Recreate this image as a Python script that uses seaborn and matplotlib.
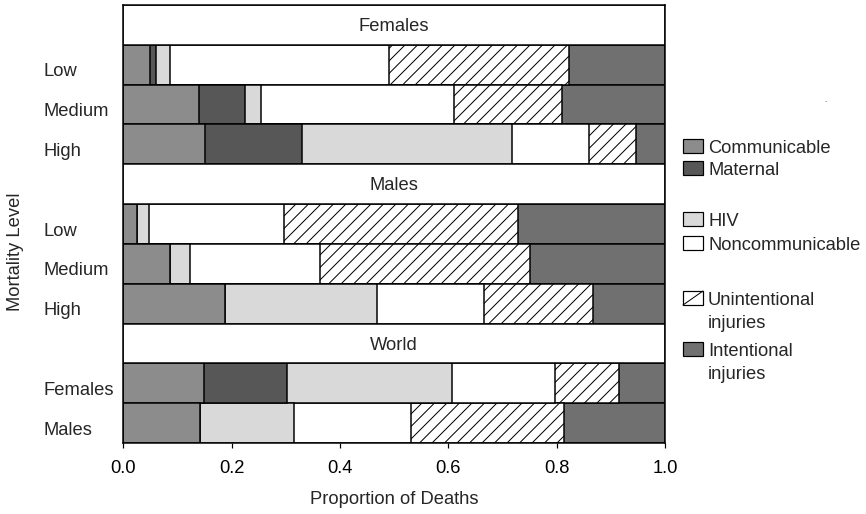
import numpy as np
import pandas as pd
import matplotlib
matplotlib.use("Agg")
import matplotlib.pyplot as plt
import matplotlib.transforms as mtransforms
from matplotlib.patches import Rectangle
from matplotlib.lines import Line2D
import seaborn as sns

# ---- data -------------------------------------------------------------
panels = ["Females", "Males", "World"]
row_keys = ["Females|Low", "Females|Medium", "Females|High",
            "Males|Low", "Males|Medium", "Males|High",
            "World|Females", "World|Males"]
row_labels = ["Low", "Medium", "High", "Low", "Medium", "High", "Females", "Males"]
causes = ["Communicable", "Maternal", "HIV", "Noncommunicable",
          "Unintentional\ninjuries", "Intentional\ninjuries"]

communicable = [0.049, 0.140, 0.151, 0.026, 0.086, 0.188, 0.149, 0.142]
maternal = [0.012, 0.084, 0.178, 0.000, 0.000, 0.000, 0.153, 0.000]
hiv = [0.025, 0.030, 0.389, 0.021, 0.038, 0.281, 0.304, 0.174]
noncommunicable = [0.404, 0.356, 0.141, 0.249, 0.239, 0.197, 0.191, 0.216]
unintentional = [0.332, 0.200, 0.087, 0.432, 0.387, 0.201, 0.118, 0.282]
intentional = [0.178, 0.190, 0.054, 0.272, 0.250, 0.133, 0.085, 0.186]

colors = ["#8c8c8c", "#575757", "#d9d9d9", "#ffffff", "#ffffff", "#707070"]
hatches = [None, None, None, None, "////", None]

# ---- setup -------------------------------------------------------------
DPI = 150
W, H = 866, 514


def px(n):
    """pixels -> points"""
    return n * 72.0 / DPI


sns.set_theme(style="white")
plt.rcParams["font.family"] = ["Liberation Sans", "DejaVu Sans"]
plt.rcParams["hatch.linewidth"] = px(1.0)
plt.rcParams["hatch.color"] = "black"
FS = px(18.4)
LW = px(1.5)

df = pd.DataFrame({"row": row_keys, "label": row_labels})
for name, vals in zip(causes, [communicable, maternal, hiv, noncommunicable,
                               unintentional, intentional]):
    df[name] = vals
cum = df[causes].cumsum(axis=1)
for c in causes:
    df["cum_" + c] = cum[c]

order = []
for p in panels:
    order.append("hdr|" + p)
    order.extend([k for k in row_keys if k.startswith(p + "|")])

fig = plt.figure(figsize=(W / DPI, H / DPI), dpi=DPI)
ax = fig.add_axes([123.3 / W, (H - 443) / H, (665 - 123.3) / W, (443 - 5) / H])

# stacked bars: draw cumulative totals from the largest down
for i in reversed(range(len(causes))):
    sns.barplot(data=df, x="cum_" + causes[i], y="row", order=order, orient="h",
                color=colors[i], saturation=1, width=1.0, errorbar=None,
                edgecolor="black", linewidth=LW, hatch=hatches[i], ax=ax)

# panel header rows
for p in panels:
    pos = order.index("hdr|" + p)
    ax.barh(pos, 1.0, height=1.0, left=0, color="white", edgecolor="black",
            linewidth=LW)
    ax.text(0.5, pos + 0.04, p, ha="center", va="center", fontsize=FS)

ax.set_xlim(0, 1)
ax.set_ylim(len(order) - 0.5, -0.5)

# axes
ax.set_xticks(np.arange(0, 1.01, 0.2))
ax.set_xticklabels([f"{v:.1f}" for v in np.arange(0, 1.01, 0.2)], fontsize=FS)
ax.tick_params(axis="x", direction="out", length=px(5), width=px(1.2),
               pad=px(12), bottom=True, colors="black")
ax.set_xlabel("Proportion of Deaths", fontsize=FS, labelpad=px(14))
ax.set_ylabel("")

ypos = [order.index(k) for k in row_keys]
ax.set_yticks(ypos)
ax.set_yticklabels(row_labels, fontsize=FS, ha="left")
ax.tick_params(axis="y", length=0, pad=px(80))
shift = mtransforms.ScaledTranslation(0, -5 / DPI, fig.dpi_scale_trans)
for lab in ax.get_yticklabels():
    lab.set_transform(lab.get_transform() + shift)

for s in ax.spines.values():
    s.set_visible(True)
    s.set_color("black")
    s.set_linewidth(LW)

fig.text(16 / W, 1 - 252 / H, "Mortality Level", rotation=90,
         ha="center", va="center", fontsize=FS)

# legend: swatch + label, grouped in pairs (pixel rows of first text line)
legend_rows = [146, 168, 219, 243, 298, 349]
sw_x0, sw_w, sw_h, txt_x = 683, 20, 14, 708
line_gap = 23.5
for i, yc in enumerate(legend_rows):
    x0 = sw_x0 / W
    y0 = 1 - (yc + sw_h / 2) / H
    fig.add_artist(Rectangle((x0, y0), sw_w / W, sw_h / H,
                             transform=fig.transFigure, facecolor=colors[i],
                             edgecolor="black", linewidth=px(1.2)))
    if hatches[i]:
        fig.add_artist(Line2D([x0, x0 + sw_w / W], [y0, y0 + sw_h / H],
                              transform=fig.transFigure, color="black",
                              linewidth=px(1.0)))
    n_lines = causes[i].count("\n") + 1
    base = yc + 6.7 + line_gap * (n_lines - 1)
    fig.text(txt_x / W, 1 - base / H, causes[i], ha="left",
             va="baseline", fontsize=FS, linespacing=1.5)

fig.text(825 / W, 1 - 101 / H, ".", fontsize=px(8), ha="center", va="center")

fig.savefig("out.png", dpi=DPI)
